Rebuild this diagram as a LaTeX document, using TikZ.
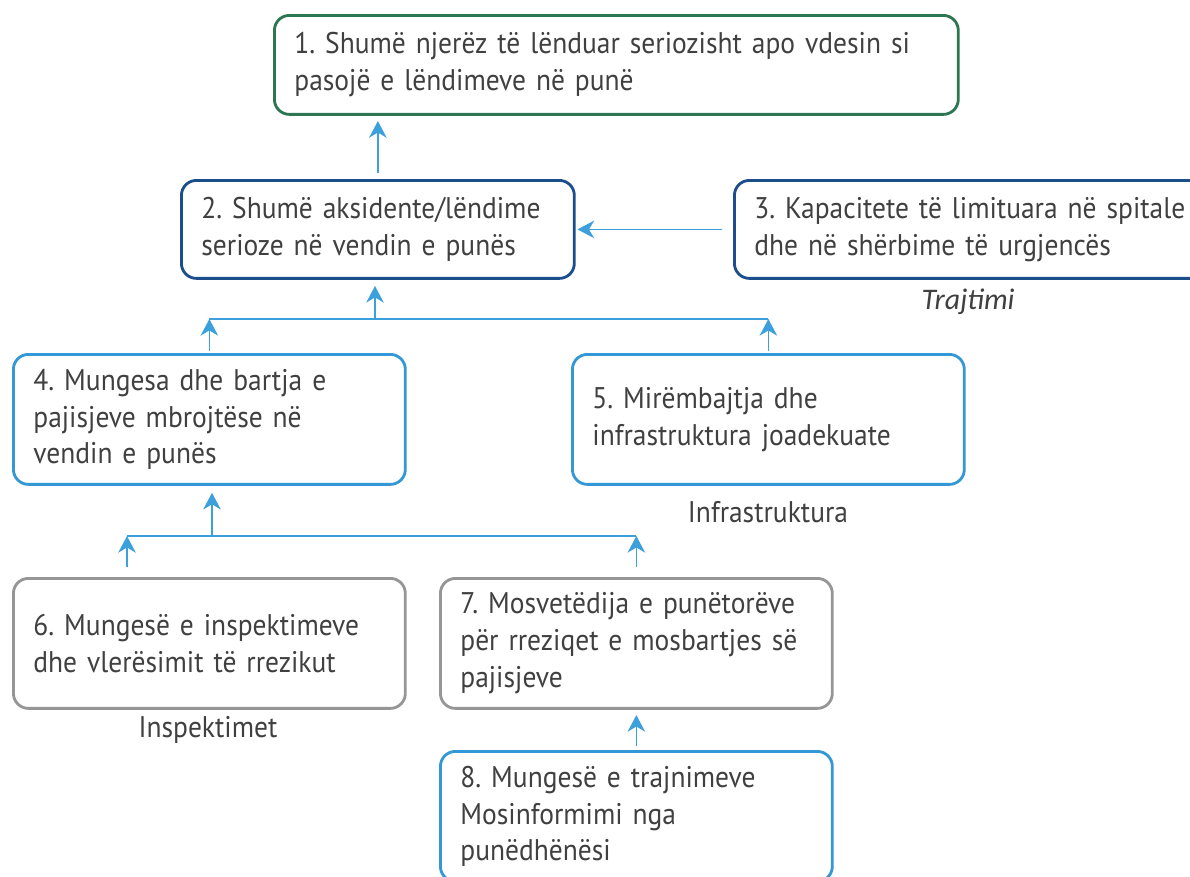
\documentclass[tikz,border=0pt]{standalone}
\usepackage{fontspec}
\setmainfont[FakeStretch=0.92]{PT Sans}
\newfontfamily\trajfont{Carlito}
\usetikzlibrary{arrows.meta,calc}
\definecolor{boxgreen}{RGB}{46,117,82}
\definecolor{boxdark}{RGB}{28,78,140}
\definecolor{boxlight}{RGB}{52,152,214}
\definecolor{boxgray}{RGB}{150,150,150}
\definecolor{arrowblue}{RGB}{60,160,220}
\definecolor{txt}{RGB}{64,64,64}
\frenchspacing

\begin{document}
\begin{tikzpicture}[x=0.02cm,y=-0.02cm,
    box/.style={draw,rounded corners=0.3cm,line width=1.6pt,anchor=north west,
      align=left,inner xsep=0.4cm,inner ysep=0pt,text=txt,
      font=\fontsize{17}{21}\selectfont},
    lbl/.style={text=txt,font=\fontsize{17}{21}\selectfont},
    arr/.style={-{Stealth[length=9.5pt,width=10pt,inset=3pt]},arrowblue,line width=0.9pt},
    link/.style={arrowblue,line width=0.9pt}]
        % Page
        \fill[white] (0,0) rectangle (1190,876);
        \clip (0,0) rectangle (1190,876);
        % Boxes
        \node[box,draw=boxgreen,text width=12.88cm,minimum height=1.98cm] (b1) at (273,14)
        {1. Shumë njerëz të lënduar seriozisht apo vdesin si\\pasojë e lëndimeve në punë};
        \node[box,draw=boxdark,text width=7.06cm,minimum height=1.96cm] (b2) at (180,179)
        {2. Shumë aksidente/lëndime\\serioze në vendin e punës};
        \node[box,draw=boxdark,text width=9.4cm,minimum height=1.96cm] (b3) at (733,179)
        {3. Kapacitete të limituara në spitale\\dhe në shërbime të urgjencës};
        \node[box,draw=boxlight,text width=7.04cm,minimum height=2.6cm] (b4) at (12,353)
        {4. Mungesa dhe bartja e\\pajisjeve mbrojtëse në\\vendin e punës};
        \node[box,draw=boxlight,text width=7.04cm,minimum height=2.6cm] (b5) at (571,353)
        {5. Mirëmbajtja dhe\\infrastruktura joadekuate};
        \node[box,draw=boxgray,text width=7.04cm,minimum height=2.6cm] (b6) at (12,577)
        {6. Mungesë e inspektimeve\\dhe vlerësimit të rrezikut};
        \node[box,draw=boxgray,text width=7.04cm,minimum height=2.6cm] (b7) at (439,577)
        {7. Mosvetëdija e punëtorëve\\për rreziqet e mosbartjes së\\pajisjeve};
        \node[box,draw=boxlight,text width=7.04cm,minimum height=2.6cm] (b8) at (439,750)
        {8. Mungesë e trajnimeve\\Mosinformimi nga\\punëdhënësi};
        % Group labels
        \node[text=txt,font=\trajfont\itshape\fontsize{17}{21}\selectfont] (trajtimi) at (968,302) {Trajtimi};
        \node[lbl] (infra) at (768,512) {Infrastruktura};
        \node[lbl] (insp) at (208,730) {Inspektimet};
        % Junctions
        \coordinate (j45) at (375,319);
        \coordinate (j67) at (212,536);
        \coordinate (s6) at ($(b6.north west)+(115,0)$);
        % 2 -> 1 and 3 -> 2
        \draw[arr,shorten <=3.5pt,shorten >=3pt] (b2.north) -- (b2.north |- b1.south);
        \draw[arr,shorten <=6pt,shorten >=1pt] (b3.west) -- (b2.east);
        % 4,5 -> 2
        \draw[link] (b4.north |- j45) -- (b5.north |- j45);
        \draw[arr,shorten <=1pt] (b4.north) -- (b4.north |- j45);
        \draw[arr,shorten <=1pt] (b5.north) -- (b5.north |- j45);
        \draw[arr,shorten >=3.5pt] (j45) -- (j45 |- b2.south);
        % 6,7 -> 4
        \draw[link] (s6 |- j67) -- (b7.north |- j67);
        \draw[arr,shorten <=5.5pt] (s6) -- (s6 |- j67);
        \draw[arr,shorten <=5.5pt] (b7.north) -- (b7.north |- j67);
        \draw[arr,shorten >=4pt] (j67) -- (j67 |- b4.south);
        % 8 -> 7
        \draw[arr,shorten <=2pt,shorten >=3pt] (b8.north) -- (b8.north |- b7.south);
\end{tikzpicture}
\end{document}
